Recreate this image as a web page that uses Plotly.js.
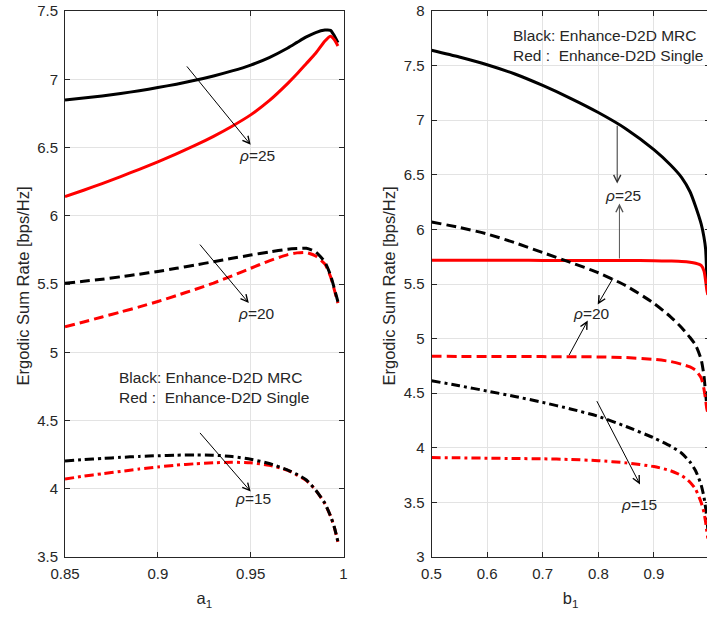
<!DOCTYPE html>
<html><head><meta charset="utf-8">
<script src="https://cdn.plot.ly/plotly-3.0.1.min.js"></script>
<style>html,body{margin:0;padding:0;overflow:hidden;background:#fff}#chart{width:712px;height:617px}</style>
</head><body><div id="chart"></div>
<script>
// ---- Left panel (a1) ----
const a1 = [0.85, 0.86, 0.87, 0.88, 0.89, 0.90, 0.91, 0.92, 0.93, 0.94, 0.95, 0.96, 0.97, 0.975, 0.98, 0.985, 0.99, 0.993, 0.995, 0.997];
const leftMRC25    = [6.848, 6.862, 6.878, 6.896, 6.916, 6.939, 6.964, 6.992, 7.024, 7.061, 7.104, 7.159, 7.229, 7.27, 7.31, 7.342, 7.36, 7.358, 7.32, 7.268];
const leftSingle25 = [6.14, 6.187, 6.236, 6.287, 6.34, 6.395, 6.453, 6.515, 6.582, 6.656, 6.739, 6.843, 6.97, 7.04, 7.115, 7.19, 7.28, 7.315, 7.29, 7.244];
const leftMRC20    = [5.505, 5.52, 5.535, 5.553, 5.572, 5.592, 5.615, 5.639, 5.663, 5.688, 5.712, 5.735, 5.755, 5.76, 5.762, 5.735, 5.66, 5.565, 5.47, 5.37];
const leftSingle20 = [5.187, 5.222, 5.258, 5.295, 5.332, 5.372, 5.415, 5.46, 5.507, 5.56, 5.615, 5.67, 5.715, 5.728, 5.73, 5.705, 5.645, 5.555, 5.46, 5.36];
const leftMRC15    = [4.203, 4.213, 4.222, 4.23, 4.237, 4.242, 4.246, 4.248, 4.246, 4.236, 4.216, 4.185, 4.137, 4.105, 4.064, 3.99, 3.893, 3.8, 3.722, 3.612];
const leftSingle15 = [4.071, 4.092, 4.11, 4.127, 4.145, 4.16, 4.173, 4.183, 4.19, 4.194, 4.19, 4.172, 4.135, 4.10, 4.06, 3.99, 3.89, 3.80, 3.72, 3.61];

// ---- Right panel (b1) ----
const b1 = [0.5, 0.55, 0.6, 0.65, 0.7, 0.75, 0.8, 0.85, 0.9, 0.93, 0.95, 0.965, 0.975, 0.985, 0.99, 0.993, 0.995, 0.997];
const rightMRC25    = [7.641, 7.579, 7.508, 7.423, 7.318, 7.2, 7.07, 6.92, 6.73, 6.59, 6.475, 6.345, 6.21, 6.05, 5.93, 5.82, 5.6, 5.45];
const rightSingle25 = [5.718, 5.718, 5.717, 5.717, 5.716, 5.716, 5.715, 5.715, 5.713, 5.71, 5.707, 5.70, 5.69, 5.67, 5.62, 5.53, 5.45, 5.40];
const rightMRC20    = [6.068, 6.018, 5.958, 5.878, 5.788, 5.698, 5.603, 5.483, 5.323, 5.2, 5.1, 5.01, 4.94, 4.81, 4.66, 4.5, 4.4, 4.35];
const rightSingle20 = [4.838, 4.837, 4.837, 4.836, 4.835, 4.834, 4.832, 4.826, 4.81, 4.79, 4.765, 4.74, 4.71, 4.64, 4.54, 4.44, 4.36, 4.32];
const rightMRC15    = [4.614, 4.568, 4.52, 4.47, 4.416, 4.356, 4.288, 4.195, 4.09, 4.015, 3.95, 3.87, 3.79, 3.66, 3.55, 3.45, 3.36, 3.25];
const rightSingle15 = [3.911, 3.908, 3.905, 3.902, 3.899, 3.893, 3.882, 3.862, 3.828, 3.79, 3.745, 3.685, 3.62, 3.5, 3.41, 3.32, 3.24, 3.17];

// ---- Ticks / labels ----
const leftXTicks = [0.85, 0.9, 0.95, 1];
const leftXTickText = ['0.85', '0.9', '0.95', '1'];
const leftYTicks = [3.5, 4, 4.5, 5, 5.5, 6, 6.5, 7, 7.5];
const leftYTickText = ['3.5', '4', '4.5', '5', '5.5', '6', '6.5', '7', '7.5'];
const rightXTicks = [0.5, 0.6, 0.7, 0.8, 0.9, 1];
const rightXTickText = ['0.5', '0.6', '0.7', '0.8', '0.9', '1'];
const rightYTicks = [3, 3.5, 4, 4.5, 5, 5.5, 6, 6.5, 7, 7.5, 8];
const rightYTickText = ['3', '3.5', '4', '4.5', '5', '5.5', '6', '6.5', '7', '7.5', '8'];
const legendLines = ['Black: Enhance-D2D MRC', 'Red :\u00a0 Enhance-D2D Single'];
const yTitle = 'Ergodic Sum Rate [bps/Hz]';

const FONT = 'Liberation Sans, Arial, Helvetica, sans-serif';
const TXT = '#262626';
const W = 712, H = 617;

const DASH = '10px,5px';
const DASHDOT = '9px,4px,3px,4px';
function tr(x, y, color, dash, xa, ya) {
  return {x: x, y: y, type: 'scatter', mode: 'lines', xaxis: xa, yaxis: ya, showlegend: false, hoverinfo: 'skip',
          line: {color: color, width: 3, dash: dash, shape: 'spline', smoothing: 0.6}};
}
const data = [
  tr(a1, leftMRC25, '#000000', 'solid', 'x', 'y'),
  tr(a1, leftSingle25, '#ff0000', 'solid', 'x', 'y'),
  tr(a1, leftSingle20, '#ff0000', DASH, 'x', 'y'),
  tr(a1, leftMRC20, '#000000', DASH, 'x', 'y'),
  tr(a1, leftSingle15, '#ff0000', DASHDOT, 'x', 'y'),
  tr(a1, leftMRC15, '#000000', DASHDOT, 'x', 'y'),
  tr(b1, rightMRC25, '#000000', 'solid', 'x2', 'y2'),
  tr(b1, rightSingle25, '#ff0000', 'solid', 'x2', 'y2'),
  tr(b1, rightMRC20, '#000000', DASH, 'x2', 'y2'),
  tr(b1, rightSingle20, '#ff0000', DASH, 'x2', 'y2'),
  tr(b1, rightMRC15, '#000000', DASHDOT, 'x2', 'y2'),
  tr(b1, rightSingle15, '#ff0000', DASHDOT, 'x2', 'y2')
];

function axis(extra) {
  return Object.assign({
    showline: true, linecolor: TXT, linewidth: 1, mirror: 'ticks',
    ticks: 'inside', ticklen: 5, tickcolor: TXT, tickwidth: 1,
    showgrid: true, gridcolor: '#e3e3e3', gridwidth: 1, zeroline: false,
    tickfont: {family: FONT, size: 15, color: TXT}, fixedrange: true
  }, extra);
}
const ydom = [60 / H, 606 / H];
const titleFont = {family: FONT, size: 16.5, color: TXT};
const layout = {
  width: W, height: H,
  margin: {l: 0, r: 0, t: 0, b: 0},
  paper_bgcolor: '#ffffff', plot_bgcolor: '#ffffff',
  font: {family: FONT, color: TXT},
  xaxis: axis({domain: [65 / W, 343.5 / W], range: [0.85, 1], tickvals: leftXTicks, ticktext: leftXTickText,
               ticklabelstandoff: 3, anchor: 'y', title: {text: 'a<sub>1</sub>', font: titleFont, standoff: 11}}),
  yaxis: axis({domain: ydom, range: [3.5, 7.5], tickvals: leftYTicks, ticktext: leftYTickText,
               ticklabelstandoff: 3, anchor: 'x'}),
  xaxis2: axis({domain: [431.5 / W, 709.5 / W], range: [0.5, 1], tickvals: rightXTicks, ticktext: rightXTickText,
                ticklabelstandoff: 3, anchor: 'y2', title: {text: 'b<sub>1</sub>', font: titleFont, standoff: 11}}),
  yaxis2: axis({domain: ydom, range: [3, 8], tickvals: rightYTicks, ticktext: rightYTickText,
                ticklabelstandoff: 3, anchor: 'x2'}),
  annotations: []
};

function arrow(xa, ya, x0, y0, x1, y1, color) {
  return {xref: xa, yref: ya, axref: xa, ayref: ya, x: x1, y: y1, ax: x0, ay: y0, text: '', showarrow: true,
          arrowhead: 5, arrowsize: 1.4, arrowwidth: 1, arrowcolor: color || '#000000'};
}
function label(xa, ya, x, y, text, anchor) {
  return {xref: xa, yref: ya, x: x, y: y, text: text, showarrow: false, xanchor: anchor || 'center', yanchor: 'middle',
          font: {family: FONT, size: 15.5, color: TXT}};
}
function yTitleAnn(px) {
  return {xref: 'paper', yref: 'paper', x: px / W, y: 1 - 286.5 / H, text: yTitle, showarrow: false, textangle: -90,
          xanchor: 'center', yanchor: 'middle', font: titleFont};
}
layout.annotations.push(
  yTitleAnn(22), yTitleAnn(388),
  arrow('x', 'y', 0.915, 7.105, 0.95, 6.52),
  label('x', 'y', 0.9534, 6.445, '<i>ρ</i>=25'),
  arrow('x', 'y', 0.922, 5.80, 0.949, 5.36),
  label('x', 'y', 0.953, 5.287, '<i>ρ</i>=20'),
  arrow('x', 'y', 0.922, 4.42, 0.95, 3.98),
  label('x', 'y', 0.951, 3.93, '<i>ρ</i>=15'),
  label('x', 'y', 0.8782, 4.817, legendLines[0], 'left'),
  label('x', 'y', 0.8782, 4.667, legendLines[1], 'left'),

  arrow('x2', 'y2', 0.834, 6.963, 0.834, 6.42, '#333333'),
  arrow('x2', 'y2', 0.838, 5.72, 0.838, 6.237, '#555555'),
  label('x2', 'y2', 0.845, 6.31, '<i>ρ</i>=25'),
  arrow('x2', 'y2', 0.828, 5.566, 0.799, 5.313),
  arrow('x2', 'y2', 0.746, 4.835, 0.781, 5.165),
  label('x2', 'y2', 0.788, 5.226, '<i>ρ</i>=20'),
  arrow('x2', 'y2', 0.796, 4.441, 0.875, 3.665),
  label('x2', 'y2', 0.873, 3.485, '<i>ρ</i>=15'),
  label('x2', 'y2', 0.643, 7.78, legendLines[0], 'left'),
  label('x2', 'y2', 0.643, 7.595, legendLines[1], 'left')
);

Plotly.newPlot('chart', data, layout, {displayModeBar: false, staticPlot: true});
</script></body></html>
